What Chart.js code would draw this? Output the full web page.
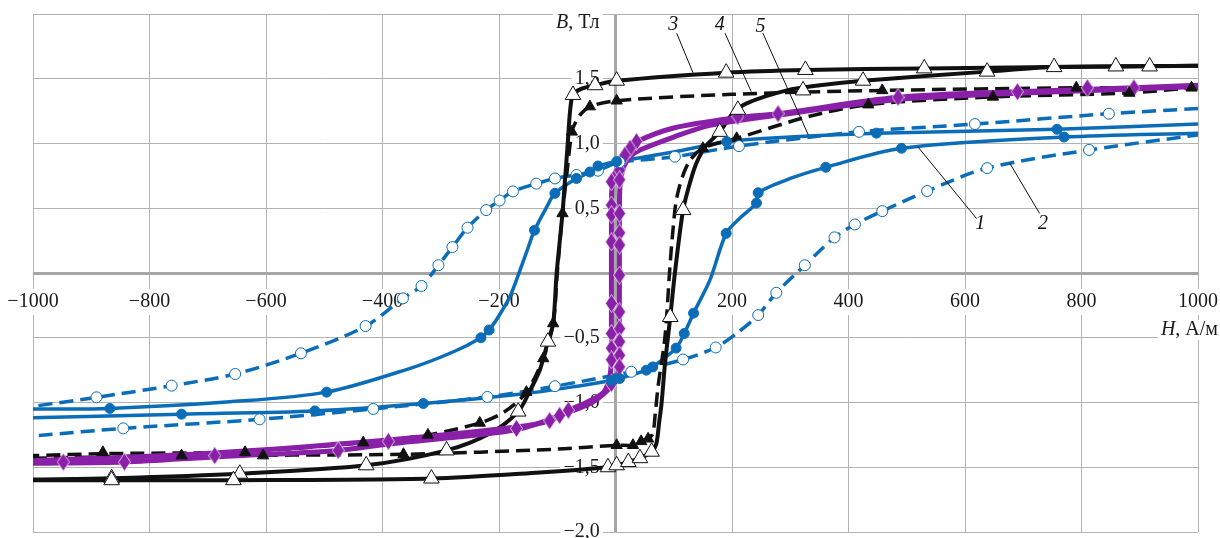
<!DOCTYPE html>
<html>
<head>
<meta charset="utf-8">
<script src="https://cdn.jsdelivr.net/npm/chart.js@4.4.1/dist/chart.umd.min.js"></script>
<style>
  body { margin: 0; background: #fff; }
  #wrap { width: 1220px; height: 538px; }
</style>
</head>
<body>
<div id="wrap"><canvas id="loops"></canvas></div>
<script>
'use strict';

// H, A/m against B, T  -- each loop: falling branch, rising branch, measured points
let loop1Down = [[1000, 1.15], [758, 1.11], [448, 1.08], [300, 1.05], [191, 1.014], [100, 0.935], [2, 0.86], [-30, 0.826], [-44, 0.78], [-67, 0.73], [-104, 0.615], [-118, 0.51], [-139, 0.33], [-152, 0.17], [-164, 0.02], [-181, -0.18], [-200, -0.33], [-217, -0.44], [-231, -0.50], [-279, -0.61], [-355, -0.74], [-496, -0.92], [-662, -0.995], [-868, -1.046], [-1000, -1.05]];
let loop1Up = [[-1000, -1.117], [-745, -1.09], [-516, -1.065], [-330, -1.008], [-153, -0.93], [-60, -0.87], [-7, -0.83], [7, -0.815], [53, -0.75], [64, -0.725], [104, -0.58], [118, -0.467], [134, -0.31], [162, -0.055], [190, 0.306], [215, 0.43], [242, 0.54], [245, 0.62], [300, 0.73], [361, 0.816], [491, 0.963], [770, 1.05], [1000, 1.08]];
let loop1Marks = [[758, 1.11], [448, 1.08], [191, 1.014], [2, 0.86], [-30, 0.826], [-44, 0.78], [-67, 0.73], [-104, 0.615], [-139, 0.33], [-217, -0.44], [-231, -0.50], [-496, -0.92], [-868, -1.046], [-745, -1.09], [-516, -1.065], [-330, -1.008], [-7, -0.83], [7, -0.815], [53, -0.75], [64, -0.725], [104, -0.58], [118, -0.467], [134, -0.31], [190, 0.306], [242, 0.54], [245, 0.62], [361, 0.816], [491, 0.963], [770, 1.05]];

let loop2Down = [[1000, 1.27], [847, 1.23], [617, 1.15], [418, 1.09], [212, 0.98], [102, 0.898], [7, 0.855], [-15, 0.82], [-30, 0.79], [-67, 0.757], [-104, 0.73], [-136, 0.69], [-176, 0.63], [-199, 0.56], [-222, 0.486], [-254, 0.35], [-280, 0.20], [-304, 0.06], [-333, -0.10], [-365, -0.196], [-429, -0.41], [-540, -0.62], [-653, -0.78], [-762, -0.87], [-891, -0.96], [-1000, -1.03]];
let loop2Up = [[-990, -1.255], [-845, -1.20], [-611, -1.13], [-416, -1.05], [-220, -0.957], [-104, -0.874], [27, -0.763], [116, -0.668], [172, -0.575], [210, -0.46], [245, -0.325], [276, -0.153], [325, 0.06], [376, 0.275], [411, 0.375], [458, 0.478], [535, 0.633], [638, 0.81], [813, 0.95], [1000, 1.066]];
let loop2Marks = [[847, 1.23], [617, 1.15], [418, 1.09], [212, 0.98], [102, 0.898], [7, 0.855], [-30, 0.79], [-67, 0.757], [-104, 0.73], [-136, 0.69], [-176, 0.63], [-199, 0.56], [-222, 0.486], [-254, 0.35], [-280, 0.20], [-304, 0.06], [-333, -0.10], [-365, -0.196], [-429, -0.41], [-540, -0.62], [-653, -0.78], [-762, -0.87], [-891, -0.96], [-845, -1.20], [-611, -1.13], [-416, -1.05], [-220, -0.957], [-104, -0.874], [27, -0.763], [116, -0.668], [172, -0.575], [245, -0.325], [276, -0.153], [325, 0.06], [376, 0.275], [411, 0.375], [458, 0.478], [535, 0.633], [638, 0.81], [813, 0.95]];

let loop3Down = [[1000, 1.60], [753, 1.59], [530, 1.58], [326, 1.568], [190, 1.547], [2, 1.485], [-35, 1.45], [-60, 1.42], [-73, 1.375], [-78, 1.25], [-82, 1.0], [-87, 0.70], [-91, 0.46], [-101, 0.0], [-107, -0.39], [-116, -0.53], [-124, -0.66], [-130, -0.75], [-147, -0.91], [-167, -1.07], [-216, -1.24], [-290, -1.37], [-428, -1.485], [-645, -1.55], [-865, -1.585], [-1000, -1.595]];
let loop3Up = [[-1000, -1.60], [-656, -1.60], [-316, -1.587], [-130, -1.54], [-13, -1.50], [2, -1.485], [22, -1.46], [42, -1.43], [62, -1.38], [70, -1.32], [75, -1.15], [79, -1.01], [85, -0.70], [94, -0.34], [102, 0.0], [116, 0.486], [128, 0.70], [139, 0.85], [155, 0.98], [179, 1.09], [201, 1.23], [225, 1.31], [294, 1.41], [351, 1.45], [425, 1.485], [638, 1.555], [753, 1.59], [1000, 1.60]];
let loop3Marks = [[917, 1.595], [859, 1.595], [530, 1.58], [326, 1.568], [190, 1.547], [2, 1.485], [-35, 1.45], [-73, 1.375], [-116, -0.53], [-167, -1.07], [-290, -1.37], [-428, -1.485], [-645, -1.55], [-865, -1.585], [-865, -1.60], [-656, -1.60], [-316, -1.587], [-13, -1.50], [2, -1.485], [22, -1.46], [42, -1.43], [62, -1.38], [94, -0.34], [116, 0.486], [179, 1.09], [210, 1.26], [322, 1.41], [425, 1.485], [638, 1.555], [753, 1.59]];

let loop4Down = [[1000, 1.43], [791, 1.43], [458, 1.41], [200, 1.38], [2, 1.33], [-44, 1.285], [-61, 1.22], [-70, 1.15], [-75, 1.09], [-83, 0.79], [-91, 0.46], [-100, 0.0], [-107, -0.39], [-124, -0.66], [-153, -0.92], [-190, -1.07], [-233, -1.158], [-322, -1.25], [-433, -1.31], [-636, -1.38], [-880, -1.395], [-1000, -1.41]];
let loop4Up = [[-1000, -1.43], [-745, -1.41], [-364, -1.40], [-100, -1.36], [2, -1.33], [30, -1.33], [44, -1.30], [56, -1.28], [64, -1.24], [68, -1.10], [73, -0.88], [85, -0.49], [93, 0.02], [98, 0.30], [106, 0.60], [125, 0.85], [150, 0.963], [208, 1.04], [333, 1.21], [434, 1.30], [648, 1.36], [882, 1.39], [989, 1.43], [1000, 1.43]];
let loop4Marks = [[989, 1.43], [882, 1.39], [791, 1.43], [648, 1.36], [458, 1.41], [434, 1.30], [208, 1.04], [150, 0.963], [2, 1.33], [-44, 1.285], [-75, 1.09], [-91, 0.46], [-107, -0.39], [-124, -0.66], [-153, -0.92], [-233, -1.158], [-322, -1.25], [-433, -1.31], [-636, -1.385], [-880, -1.385], [-745, -1.41], [-605, -1.41], [-364, -1.40], [2, -1.33], [30, -1.33], [44, -1.30], [56, -1.28]];

let loop5Down = [[1000, 1.45], [890, 1.43], [690, 1.40], [485, 1.357], [279, 1.23], [210, 1.20], [100, 1.12], [36, 1.014], [25, 0.963], [16, 0.91], [2, 0.80], [-5, 0.72], [-7, 0.5], [-7, -0.6], [-9, -0.78], [-20, -0.92], [-50, -1.0], [-81, -1.06], [-113, -1.14], [-170, -1.19], [-390, -1.29], [-688, -1.39], [-1000, -1.45]];
let loop5Up = [[-1000, -1.47], [-843, -1.46], [-688, -1.42], [-476, -1.37], [-390, -1.32], [-170, -1.21], [-96, -1.10], [-40, -1.0], [-12, -0.9], [2, -0.82], [6, -0.7], [7, 0.6], [9, 0.72], [14, 0.82], [25, 0.9], [42, 0.95], [100, 1.05], [162, 1.14], [279, 1.22], [485, 1.34], [700, 1.39], [1000, 1.44]];
let loop5Marks = [[890, 1.43], [810, 1.43], [690, 1.40], [485, 1.357], [279, 1.23], [210, 1.21], [36, 1.014], [25, 0.963], [16, 0.91], [-7, 0.705], [-7, 0.525], [-7, 0.45], [-7, 0.24], [-7, -0.235], [-7, -0.467], [-7, -0.58], [-7, -0.67], [7, 0.795], [7, 0.72], [7, 0.46], [7, 0.31], [7, 0.216], [7, -0.016], [7, -0.30], [7, -0.43], [7, -0.53], [7, -0.635], [7, -0.725], [-7, -0.853], [-81, -1.06], [-96, -1.10], [-113, -1.14], [-170, -1.20], [-390, -1.30], [-476, -1.37], [-688, -1.41], [-843, -1.46], [-948, -1.46]];

// curve numbers with their leader lines: [text, text at H,B, line from H,B, line to H,B]
let callouts = [
    ['3', 99, 1.916, 105, 1.852, 133, 1.547],
    ['4', 179, 1.916, 188, 1.852, 233, 1.40],
    ['5', 249, 1.903, 253, 1.852, 331, 1.066],
    ['1', 626, 0.383, 620, 0.42, 519, 0.975],
    ['2', 734, 0.383, 728, 0.46, 677, 0.847]
];

let blue = '#0b6db7';
let purple = '#8a1fa8';
let black = '#111111';
let axisGrey = '#a6a6a6';
let gridGrey = '#b3b3b3';
let serif = 'Liberation Serif, Times New Roman, serif';

// purple diamond marker, taller than wide, with a light rim
function makeDiamond() {
    let c = document.createElement('canvas');
    c.width = 13;
    c.height = 19;
    let g = c.getContext('2d');
    g.fillStyle = purple;
    g.strokeStyle = 'rgba(255,255,255,0.7)';
    g.lineWidth = 1;
    g.beginPath();
    g.moveTo(6.5, 0.5);
    g.lineTo(12.5, 9.5);
    g.lineTo(6.5, 18.5);
    g.lineTo(0.5, 9.5);
    g.closePath();
    g.fill();
    g.stroke();
    return c;
}

function lineSet(points, color, width, dash, order) {
    return {
        data: points,
        showLine: true,
        borderColor: color,
        borderWidth: width,
        borderDash: dash,
        pointRadius: 0,
        pointHoverRadius: 0,
        tension: 0.3,
        order: order
    };
}

function markSet(points, style, radius, fill, stroke) {
    return {
        data: points,
        showLine: false,
        pointStyle: style,
        pointRadius: radius,
        pointHoverRadius: radius,
        pointBackgroundColor: fill,
        pointBorderColor: stroke,
        pointBorderWidth: 1,
        order: 1
    };
}

function fmt(v, digits) {
    return v.toFixed(digits).replace('.', ',').replace('-', '\u2212');
}

// padding that chart.js adds for edge labels is not wanted here
function noPad(scale) {
    scale.paddingLeft = 0;
    scale.paddingRight = 0;
    scale.paddingTop = 0;
    scale.paddingBottom = 0;
}

// text made of italic and upright pieces, on a white box
function mixedText(ctx, parts, right, middle) {
    let widths = [];
    let total = 0;
    for (let i = 0; i < parts.length; i++) {
        ctx.font = (parts[i][1] ? 'italic ' : '') + '20px ' + serif;
        widths.push(ctx.measureText(parts[i][0]).width);
        total += widths[i];
    }
    let x = right - total;
    ctx.fillStyle = '#ffffff';
    ctx.fillRect(x - 3, middle - 10, total + 6, 20);
    ctx.fillStyle = '#1a1a1a';
    ctx.textBaseline = 'middle';
    ctx.textAlign = 'left';
    for (let i = 0; i < parts.length; i++) {
        ctx.font = (parts[i][1] ? 'italic ' : '') + '20px ' + serif;
        ctx.fillText(parts[i][0], x, middle);
        x += widths[i];
    }
}

let axisTitles = {
    id: 'axisTitles',
    beforeDatasetsDraw(chart) {
        let ctx = chart.ctx;
        let x0 = chart.scales.x.getPixelForValue(0);
        let y0 = chart.scales.y.getPixelForValue(0);
        ctx.save();
        mixedText(ctx, [['B', true], [', Тл', false]], x0 - 16, chart.chartArea.top + 9);
        mixedText(ctx, [['H', true], [', А/м', false]], chart.chartArea.right + 20, y0 + 57);
        ctx.restore();
    }
};

let curveLabels = {
    id: 'curveLabels',
    afterDatasetsDraw(chart) {
        let ctx = chart.ctx;
        let sx = chart.scales.x;
        let sy = chart.scales.y;
        ctx.save();
        ctx.strokeStyle = '#111';
        ctx.lineWidth = 1;
        ctx.fillStyle = '#111';
        ctx.font = 'italic 20px ' + serif;
        ctx.textAlign = 'center';
        ctx.textBaseline = 'middle';
        for (let i = 0; i < callouts.length; i++) {
            let c = callouts[i];
            ctx.beginPath();
            ctx.moveTo(sx.getPixelForValue(c[3]), sy.getPixelForValue(c[4]));
            ctx.lineTo(sx.getPixelForValue(c[5]), sy.getPixelForValue(c[6]));
            ctx.stroke();
            ctx.fillText(c[0], sx.getPixelForValue(c[1]), sy.getPixelForValue(c[2]));
        }
        ctx.restore();
    }
};

let diamond = makeDiamond();

let datasets = [
    lineSet(loop1Down, blue, 3.5, [], 4),
    lineSet(loop1Up, blue, 3.5, [], 4),
    lineSet(loop2Down, blue, 3.5, [14, 7], 4),
    lineSet(loop2Up, blue, 3.5, [14, 7], 4),
    lineSet(loop3Down, black, 4, [], 3),
    lineSet(loop3Up, black, 4, [], 3),
    lineSet(loop4Down, black, 3.5, [14, 7], 3),
    lineSet(loop4Up, black, 3.5, [14, 7], 3),
    lineSet(loop5Down, purple, 5, [], 2),
    lineSet(loop5Up, purple, 5, [], 2),
    markSet(loop1Marks, 'circle', 5, blue, blue),
    markSet(loop2Marks, 'circle', 5.5, '#ffffff', blue),
    markSet(loop3Marks, 'triangle', 9, '#ffffff', black),
    markSet(loop4Marks, 'triangle', 6.5, black, black),
    markSet(loop5Marks, diamond, 6, purple, purple)
];

let tickFont = { family: serif, size: 20 };

// the zero lines are the thick grid lines at H = 0 and B = 0
let gridWidth = (ctx) => ctx.tick && ctx.tick.value === 0 ? 3 : 1;
let gridColor = (ctx) => ctx.tick && ctx.tick.value === 0 ? axisGrey : gridGrey;

let chart = new Chart(document.getElementById('loops'), {
    type: 'scatter',
    data: { datasets: datasets },
    plugins: [axisTitles, curveLabels],
    options: {
        responsive: true,
        maintainAspectRatio: false,
        animation: false,
        layout: { autoPadding: false, padding: { left: 33, right: 22, top: 14, bottom: 6 } },
        plugins: { legend: { display: false }, tooltip: { enabled: false } },
        scales: {
            x: {
                type: 'linear',
                position: { y: 0 },
                min: -1000,
                max: 1000,
                afterFit: noPad,
                border: { display: false },
                grid: { color: gridColor, lineWidth: gridWidth, drawTicks: false },
                ticks: {
                    stepSize: 200,
                    autoSkip: false,
                    maxRotation: 0,
                    padding: 17,
                    color: '#1a1a1a',
                    font: tickFont,
                    showLabelBackdrop: (ctx) => ctx.tick && ctx.tick.value !== 0,
                    backdropColor: '#ffffff',
                    backdropPadding: { x: 3, y: 1 },
                    callback: (v) => v === 0 ? '' : fmt(v, 0)
                }
            },
            y: {
                type: 'linear',
                // labels sit just left of the H = 0 line
                position: { x: -27 },
                min: -2,
                max: 2,
                afterFit: noPad,
                border: { display: false },
                grid: { color: gridColor, lineWidth: gridWidth, drawTicks: false },
                ticks: {
                    stepSize: 0.5,
                    autoSkip: false,
                    padding: 0,
                    color: '#1a1a1a',
                    font: tickFont,
                    showLabelBackdrop: (ctx) => ctx.tick && ctx.tick.value !== 0 && ctx.tick.value !== 2,
                    backdropColor: '#ffffff',
                    backdropPadding: { x: 3, y: 1 },
                    callback: (v) => (v === 0 || v === 2) ? '' : fmt(v, 1)
                }
            }
        }
    }
});
</script>
</body>
</html>
